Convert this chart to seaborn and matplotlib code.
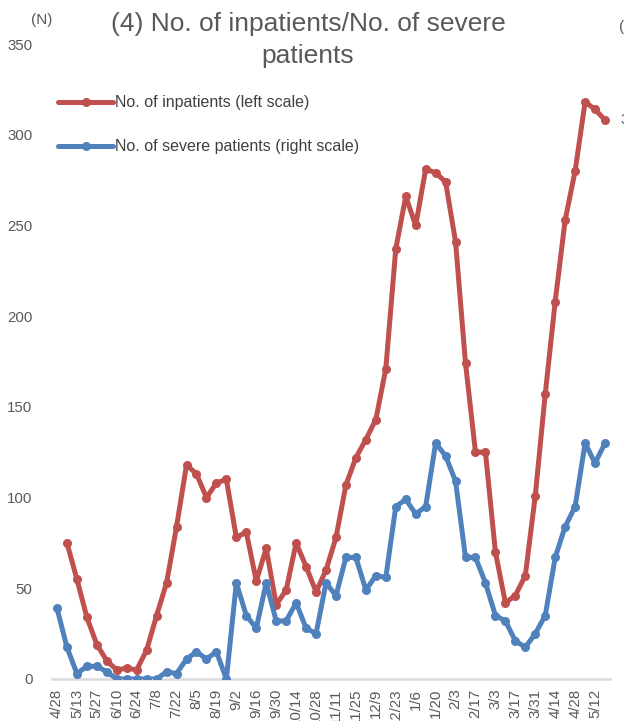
import numpy as np
import pandas as pd
import seaborn as sns
import matplotlib.pyplot as plt

# x tick labels (every 2nd week)
tick_labels = ['4/28', '5/13', '5/27', '6/10', '6/24', '7/8', '7/22', '8/5', '8/19',
               '9/2', '9/16', '9/30', '10/14', '10/28', '11/11', '11/25', '12/9',
               '12/23', '1/6', '1/20', '2/3', '2/17', '3/3', '3/17', '3/31', '4/14',
               '4/28', '5/12']

# no. of inpatients (left scale), first week has no value
inpatients = [np.nan, 75, 55, 34, 19, 10, 5, 6, 5, 16, 35, 53, 84, 118, 113, 100,
              108, 110, 78, 81, 54, 72, 41, 49, 75, 62, 48, 60, 78, 107, 122, 132,
              143, 171, 237, 266, 250, 281, 279, 274, 241, 174, 125, 125, 70, 42,
              46, 57, 101, 157, 208, 253, 280, 318, 314, 308]

# no. of severe patients (right scale)
severe = [3.9, 1.75, 0.3, 0.7, 0.7, 0.4, 0, 0, 0, 0, 0, 0.4, 0.3, 1.1, 1.5, 1.1,
          1.5, 0, 5.3, 3.5, 2.8, 5.3, 3.2, 3.2, 4.2, 2.8, 2.5, 5.3, 4.6, 6.7, 6.7,
          4.9, 5.7, 5.6, 9.5, 9.9, 9.1, 9.5, 13.0, 12.3, 10.9, 6.7, 6.7, 5.3, 3.5,
          3.2, 2.1, 1.75, 2.5, 3.5, 6.7, 8.4, 9.5, 13.0, 11.9, 13.0]

weeks = np.arange(len(severe))
df = pd.DataFrame({'week': weeks, 'inpatients': inpatients, 'severe': severe})

sns.set_theme(style='white')
plt.rcParams['font.family'] = ['Liberation Sans', 'DejaVu Sans']

red = '#C0504D'
blue = '#4F81BD'
grey = '#595959'

fig = plt.figure(figsize=(6.24, 7.21), dpi=100)
ax = fig.add_axes([52/624, 42/721, 558/624, 635/721])

sns.lineplot(data=df, x='week', y='inpatients', ax=ax, color=red, lw=3.6,
             marker='o', ms=6.5, mec=red, mew=0, label='No. of inpatients (left scale)',
             legend=False)
ax2 = ax.twinx()
sns.lineplot(data=df, x='week', y='severe', ax=ax2, color=blue, lw=3.6,
             marker='o', ms=6.5, mec=blue, mew=0, label='No. of severe patients (right scale)',
             legend=False)

ax.set_xlim(-0.5, 55.5)
ax.set_ylim(0, 350)
ax2.set_ylim(0, 35)
ax.set_yticks(range(0, 351, 50))
ax.set_xticks(weeks[::2])
ax.set_xticklabels(tick_labels, rotation=90)
ax.set_xlabel('')
ax.set_ylabel('')
ax2.set_ylabel('')
ax2.set_yticks([])

for a in (ax, ax2):
    for s in a.spines.values():
        s.set_visible(False)
ax.spines['bottom'].set_visible(True)
ax.spines['bottom'].set_color('#d9d9d9')
ax.spines['bottom'].set_linewidth(1.8)
ax.tick_params(axis='y', length=0, pad=14, labelsize=10.8, labelcolor=grey)
ax.tick_params(axis='x', length=0, pad=7, labelsize=10.8, labelcolor=grey)

# data label on last point (cut off by the edge)
ax.annotate(f'{inpatients[-1]}', xy=(weeks[-1], inpatients[-1]), xytext=(11, 0),
            textcoords='offset points', va='center', fontsize=10.8, color=grey,
            annotation_clip=False)

fig.text(31/624, 1 - 20/721, '(N)', fontsize=11, color=grey, va='center')
fig.text(619/624, 1 - 27/721, '(N)', fontsize=11, color=grey, va='center')
fig.text(308/624, 1 - 40/721, '(4) No. of inpatients/No. of severe\npatients',
         ha='center', va='center', fontsize=19, color=grey, linespacing=1.37)

h = [ax.get_lines()[0], ax2.get_lines()[0]]
leg = ax2.legend(h, [l.get_label() for l in h], loc='upper left',
                 bbox_to_anchor=(0.011, 0.919), frameon=False, borderpad=0,
                 borderaxespad=0, handlelength=3.45, handletextpad=0.12,
                 labelspacing=1.8, fontsize=11.5, labelcolor='#404040')

fig.savefig('out.png', dpi=100)
